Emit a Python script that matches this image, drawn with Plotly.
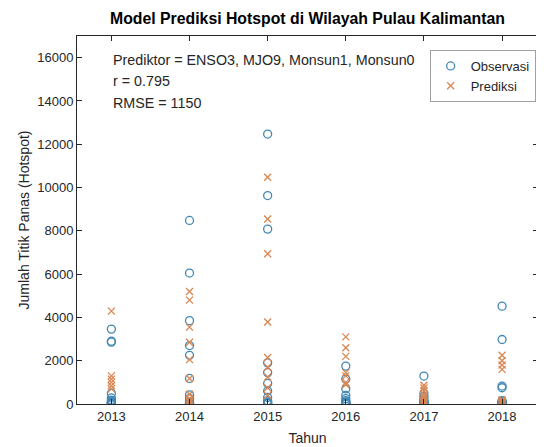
import plotly.graph_objects as go

# Tahun (nilai bulanan per tahun)
tahun = [2013, 2014, 2015, 2016, 2017, 2018]

observasi = {
    2013: [3460, 2900, 2860, 500, 280, 180, 120, 80, 50, 30, 20, 10],
    2014: [8480, 6050, 3850, 2700, 2250, 1180, 420, 250, 100, 50, 20, 10],
    2015: [12470, 9630, 8080, 1900, 1450, 950, 600, 300, 150, 80, 40, 20],
    2016: [1750, 1150, 700, 400, 250, 150, 100, 60, 40, 20, 10, 5],
    2017: [1290, 500, 350, 250, 150, 100, 80, 50, 30, 20, 10, 5],
    2018: [4520, 2980, 830, 750, 150, 100, 80, 50, 30, 20, 10, 5],
}
# hanya prediksi yang terlihat di atas sumbu
prediksi = {
    2013: [4290, 1300, 1150, 1000, 840, 700],
    2014: [5200, 4800, 3550, 2850, 2050, 1180, 450, 250, 150, 80],
    2015: [10475, 8550, 6940, 3790, 2150, 1700, 1250, 750, 400],
    2016: [3100, 2600, 2200, 1450, 1300, 1000, 900],
    2017: [870, 740, 600, 450, 300, 200, 150, 100, 60],
    2018: [2250, 2000, 1800, 1600, 200, 150, 100, 80, 50, 30, 20, 10],
}

obs_x = [t for t in tahun for _ in observasi[t]]
obs_y = [v for t in tahun for v in observasi[t]]
pred_x = [t for t in tahun for _ in prediksi[t]]
pred_y = [v for t in tahun for v in prediksi[t]]

font = "Liberation Sans, Arial, sans-serif"
abu = "#262626"

fig = go.Figure()

fig.add_trace(go.Scatter(
    x=obs_x, y=obs_y, mode="markers", name="Observasi",
    marker=dict(symbol="circle-open", size=8, color="#4288b5", line=dict(width=1.3))
))
fig.add_trace(go.Scatter(
    x=pred_x, y=pred_y, mode="markers", name="Prediksi",
    marker=dict(symbol="x-thin-open", size=7, color="#d98652", line=dict(width=1.3, color="#d98652"))
))

axis_common = dict(
    showline=True, linecolor=abu, linewidth=1, mirror="allticks",
    ticks="inside", ticklen=5, tickcolor=abu, showgrid=False, zeroline=False,
    automargin=False,
    tickfont=dict(family=font, size=13, color=abu),
)

fig.update_xaxes(
    range=[2012.56, 2018.46], tickvals=tahun, ticktext=[str(t) for t in tahun],
    title=dict(text="Tahun", font=dict(family=font, size=14, color=abu), standoff=10),
    **axis_common
)
fig.update_yaxes(
    range=[0, 17000], tickvals=list(range(0, 16001, 2000)), tickformat="d",
    title=dict(text="Jumlah Titik Panas (Hotspot)", font=dict(family=font, size=14, color=abu), standoff=4),
    **axis_common
)

teks = ["Prediktor = ENSO3, MJO9, Monsun1, Monsun0", "r = 0.795", "RMSE = 1150"]
for i, t in enumerate(teks):
    fig.add_annotation(
        text=t, xref="paper", yref="paper", x=0.074, y=0.935 - i * 0.058,
        xanchor="left", yanchor="middle", showarrow=False,
        font=dict(family=font, size=14.3, color=abu)
    )

# halaman memberi margin 8px di kiri/atas, jadi margin plot dikurangi
fig.update_layout(
    width=544, height=447,
    margin=dict(l=69, r=14, t=28, b=51, autoexpand=False),
    paper_bgcolor="white", plot_bgcolor="white",
    title=dict(text="<b>Model Prediksi Hotspot di Wilayah Pulau Kalimantan</b>",
               xref="paper", x=0.5, xanchor="center",
               yref="container", y=0.977, yanchor="middle",
               font=dict(family=font, size=15.8, color="black")),
    legend=dict(x=0.765, y=0.962, xanchor="left", yanchor="top",
                bgcolor="white", bordercolor="#a0a0a0", borderwidth=1,
                font=dict(family=font, size=13, color=abu),
                itemwidth=30, tracegroupgap=0),
    showlegend=True,
)

fig.write_html("out.html")
